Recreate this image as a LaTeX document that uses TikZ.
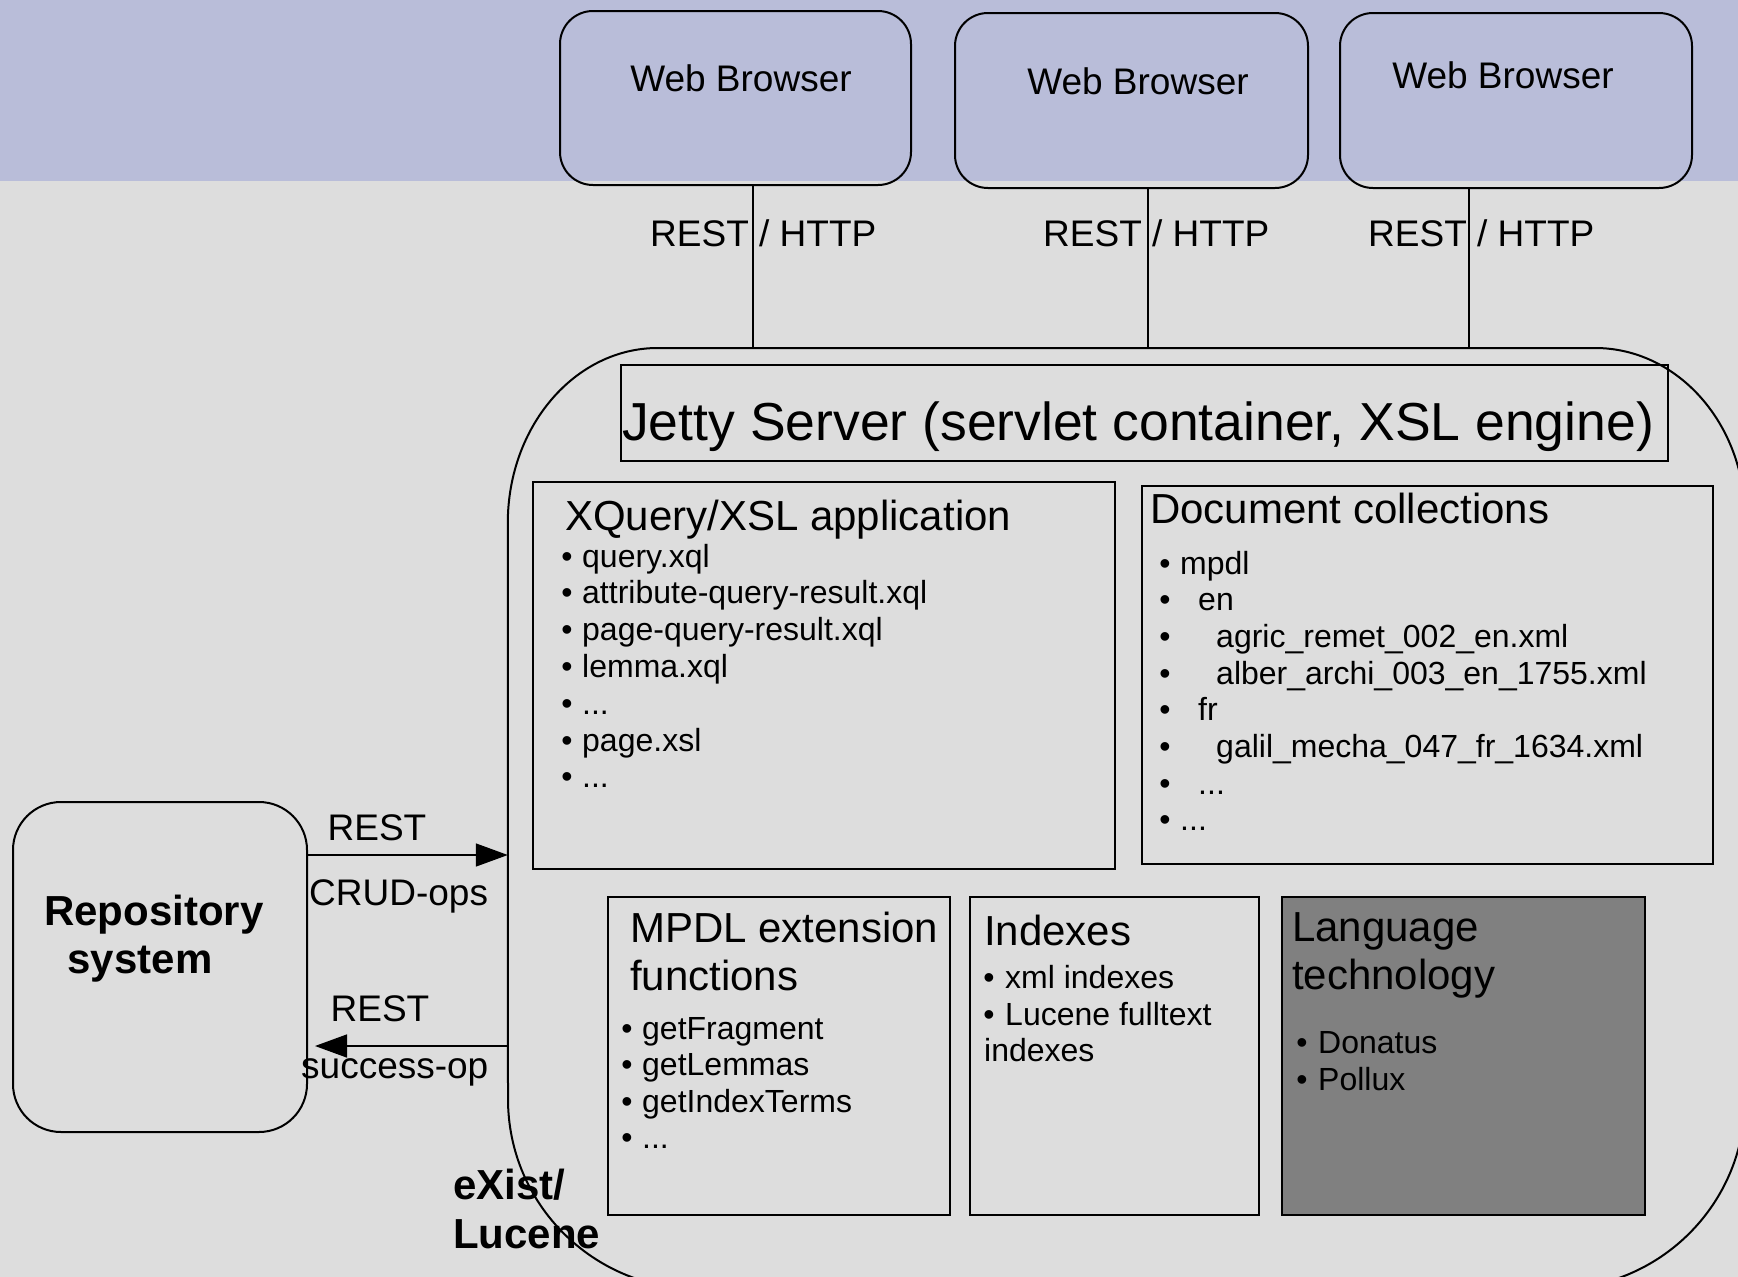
\documentclass[tikz,border=0pt]{standalone}
\usepackage{fontspec}
\setmainfont{Liberation Sans}
\usetikzlibrary{arrows.meta}
\definecolor{bandblue}{RGB}{185,189,217}
\definecolor{bggray}{RGB}{221,221,221}
\definecolor{ltgray}{RGB}{128,128,128}
\newcommand\myell{...}
\tikzset{
  boxline/.style={draw=black, line width=2pt},
  browser/.style={boxline, rounded corners=33pt, inner sep=0},
  plainbox/.style={boxline, inner sep=0},
  conn/.style={draw=black, line width=1.2pt},
  arr/.style={draw=black, line width=1.5pt, -{Triangle[length=32pt,width=23pt]}},
  tt/.style={inner sep=0, font=\fontsize{32}{38}\selectfont},
  tm/.style={inner sep=0, font=\fontsize{37}{44}\selectfont},
  tl/.style={inner sep=0, font=\fontsize{42}{50}\selectfont},
  tb/.style={inner sep=0, font=\fontsize{42}{50}\selectfont\bfseries},
  th/.style={inner sep=0, font=\fontsize{53.5}{62}\selectfont},
}
\begin{document}
\begin{tikzpicture}[x=1pt,y=-1pt]
\useasboundingbox (0,0) rectangle (1738,1277);
\clip (0,0) rectangle (1738,1277);
\fill[bggray] (0,0) rectangle (1738,1277);
\fill[bandblue] (0,0) rectangle (1738,181);

% web browsers
\node[browser, minimum width=351pt, minimum height=174pt] (wb1) at (735.5,98) {};
\node[browser, minimum width=353pt, minimum height=175pt] (wb2) at (1131.5,100.5) {};
\node[browser, minimum width=352pt, minimum height=175pt] (wb3) at (1516,100.5) {};
\node[tm, anchor=base] (wb1t) at (741,91) {Web Browser};
\node[tm, anchor=base] (wb2t) at (1138,94) {Web Browser};
\node[tm, anchor=base] (wb3t) at (1503,88) {Web Browser};

% eXist container (outline drawn at the end)
\node[inner sep=0, minimum width=1237pt, minimum height=941pt] (exist) at (1126.5,818.5) {};

% connectors browsers -> server
\coordinate (p1) at (753,0);
\coordinate (p2) at (1148,0);
\coordinate (p3) at (1469,0);
\draw[conn] (p1 |- wb1.south) -- (p1 |- exist.north);
\draw[conn] (p2 |- wb2.south) -- (p2 |- exist.north);
\draw[conn] (p3 |- wb3.south) -- (p3 |- exist.north);
\node[tm, anchor=base west] (rh1) at (650,246) {REST / HTTP};
\node[tm, anchor=base west] (rh2) at (1043,246) {REST / HTTP};
\node[tm, anchor=base west] (rh3) at (1368,246) {REST / HTTP};

% Jetty
\node[plainbox, minimum width=1047pt, minimum height=96pt] (jetty) at (1144.5,413) {};
\node[th, anchor=base west] (jettyt) at (622,440) {Jetty Server (servlet container, XSL engine)};

% XQuery/XSL application
\node[plainbox, minimum width=582pt, minimum height=387pt] (xq) at (824,675.5) {};
\node[tl, anchor=base west] (xqt) at (565,530) {XQuery/XSL application};
\foreach \i/\yy/\txt in {1/567/query.xql, 2/603.8/attribute-query-result.xql, 3/640.6/page-query-result.xql, 4/677.4/lemma.xql, 5/714.2/\myell, 6/751/page.xsl, 7/787.8/\myell}{
  \node[tt, anchor=base] (xqb\i) at (567,\yy) {•};
  \node[tt, anchor=base west] (xq\i) at (582,\yy) {\txt};
}

% Document collections
\node[plainbox, minimum width=571pt, minimum height=378pt] (dc) at (1427,675) {};
\node[tl, anchor=base west] (dct) at (1150,523) {Document collections};
\foreach \i/\yy/\xx/\txt in {1/574/1180/mpdl, 2/610.7/1198/en, 3/647.4/1216/agric\_remet\_002\_en.xml, 4/684.1/1216/alber\_archi\_003\_en\_1755.xml, 5/720.8/1198/fr, 6/757.5/1216/galil\_mecha\_047\_fr\_1634.xml, 7/794.2/1198/\myell, 8/830.9/1180/\myell}{
  \node[tt, anchor=base] (dcb\i) at (1165,\yy) {•};
  \node[tt, anchor=base west] (dc\i) at (\xx,\yy) {\txt};
}

% MPDL extension functions
\node[plainbox, minimum width=342pt, minimum height=318pt] (mp) at (779,1056) {};
\node[tl, anchor=base west] (mpt1) at (630,942) {MPDL extension};
\node[tl, anchor=base west] (mpt2) at (630,990) {functions};
\foreach \i/\yy/\txt in {1/1039/getFragment, 2/1075.5/getLemmas, 3/1112/getIndexTerms, 4/1148.5/\myell}{
  \node[tt, anchor=base] (mpb\i) at (627,\yy) {•};
  \node[tt, anchor=base west] (mp\i) at (642,\yy) {\txt};
}

% Indexes
\node[plainbox, minimum width=289pt, minimum height=318pt] (ix) at (1114.5,1056) {};
\node[tl, anchor=base west] (ixt) at (984,945) {Indexes};
\node[tt, anchor=base] (ixb1) at (989,988) {•};
\node[tt, anchor=base west] (ix1) at (1005,988) {xml indexes};
\node[tt, anchor=base] (ixb2) at (989,1025) {•};
\node[tt, anchor=base west] (ix2) at (1005,1025) {Lucene fulltext};
\node[tt, anchor=base west] (ix3) at (984,1061) {indexes};

% Language technology
\node[plainbox, fill=ltgray, minimum width=363pt, minimum height=318pt] (lt) at (1463.5,1056) {};
\node[tl, anchor=base west] (ltt1) at (1292,941) {Language};
\node[tl, anchor=base west] (ltt2) at (1292,989) {technology};
\node[tt, anchor=base] (ltb1) at (1302,1053) {•};
\node[tt, anchor=base west] (lt1) at (1318,1053) {Donatus};
\node[tt, anchor=base] (ltb2) at (1302,1090) {•};
\node[tt, anchor=base west] (lt2) at (1318,1090) {Pollux};

% Repository system
\node[boxline, rounded corners=48pt, inner sep=0, minimum width=294pt, minimum height=330pt] (repo) at (160,967) {};
\node[tb, anchor=base] (repot1) at (154,925) {Repository};
\node[tb, anchor=base] (repot2) at (140,973) {system};

% arrows repository <-> eXist
\coordinate (a1) at (0,855);
\coordinate (a2) at (0,1046);
\draw[arr] (repo.east |- a1) -- (exist.west |- a1);
\draw[arr, shorten >=7pt] (exist.west |- a2) -- (repo.east |- a2);
\node[tm, anchor=base] (l1) at (377,840) {REST};
\node[tm, anchor=base west] (l2) at (309,905) {CRUD-ops};
\node[tm, anchor=base] (l3) at (380,1021) {REST};
\node[tm, anchor=base west] (l4) at (301,1078) {success-op};

% eXist / Lucene label
\node[tb, anchor=base west] (ex1) at (453,1199) {eXist/};
\node[tb, anchor=base west] (ex2) at (453,1248) {Lucene};

% container outline
\draw[boxline] (exist.west |- 0,523)
  arc[start angle=180, end angle=270, x radius=150, y radius=175]
  -- (1595,348)
  arc[start angle=270, end angle=360, x radius=150, y radius=170]
  -- (1745,1099)
  arc[start angle=0, end angle=90, radius=190]
  -- (698,1289)
  arc[start angle=90, end angle=180, radius=190]
  -- cycle;
\end{tikzpicture}
\end{document}
